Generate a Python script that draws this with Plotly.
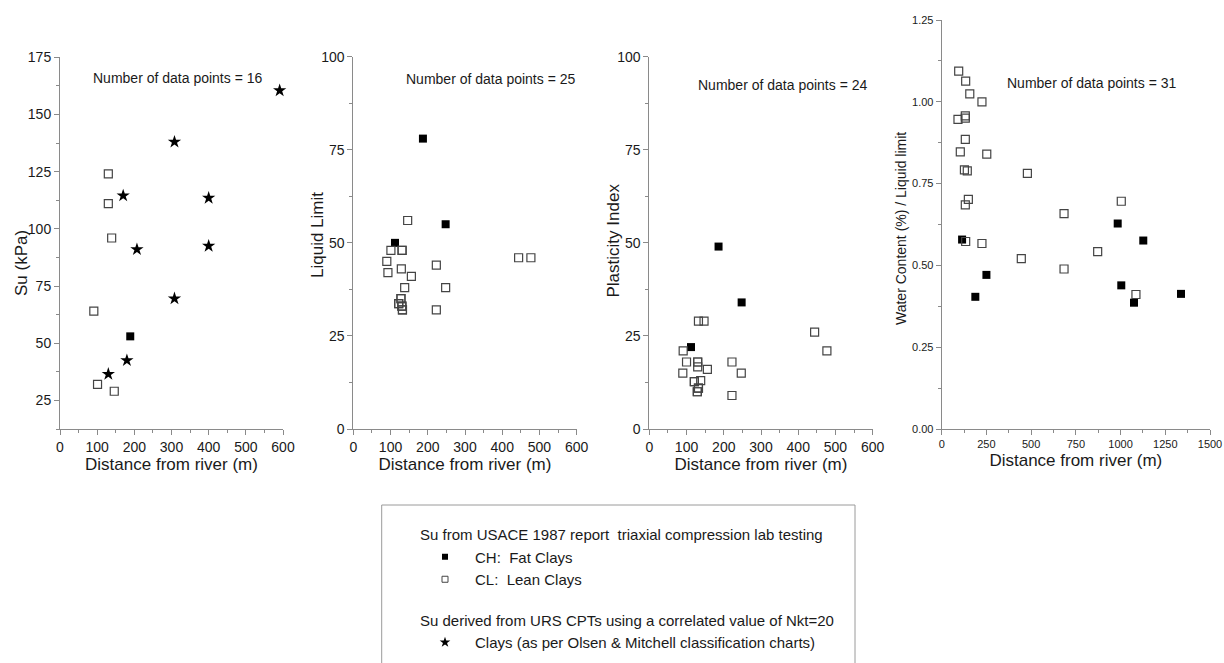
import plotly.graph_objects as go

# ---------------- data ----------------
# Panel 1: Su (kPa)
su_ch_x = [189]
su_ch_y = [53]
su_cl_x = [130, 130, 139, 91, 101, 146]
su_cl_y = [124, 111, 96, 64, 32, 29]
su_cpt_x = [591, 308, 170, 400, 207, 400, 308, 180, 130]
su_cpt_y = [160.5, 138, 114.5, 113.5, 91, 92.5, 69.5, 42.5, 36.5]

# Panel 2: Liquid Limit
ll_ch_x = [187, 248, 112]
ll_ch_y = [78, 55, 50]
ll_cl_x = [146, 101, 131, 90, 93, 129, 156, 223, 138, 248, 444, 477, 128, 122, 131, 132, 223,
           131, 128, 122, 130, 132]
ll_cl_y = [56, 48, 48, 45, 42, 43, 41, 44, 38, 38, 46, 46, 35, 33.7, 33, 32, 32,
           48, 35, 33.7, 33, 32]

# Panel 3: Plasticity Index
pi_ch_x = [186, 248, 112]
pi_ch_y = [49, 34, 22]
pi_cl_x = [132, 147, 91, 100, 130, 130, 156, 90, 222, 247, 121, 138, 132, 129, 222, 444, 477,
           130, 121, 129, 132]
pi_cl_y = [29, 29, 21, 18, 18, 16.7, 16, 15, 18, 15, 12.7, 13, 11, 10, 9, 26, 21,
           18, 12.7, 10, 11]

# Panel 4: Water content / Liquid limit
wc_ch_x = [114, 250, 188, 984, 1127, 1004, 1075, 1338]
wc_ch_y = [0.579, 0.471, 0.404, 0.628, 0.576, 0.439, 0.386, 0.413]
wc_cl_x = [95, 134, 157, 225, 91, 132, 132, 104, 252, 127, 143, 479, 149, 132, 1004, 684,
           134, 225, 872, 445, 684, 1086, 132]
wc_cl_y = [1.094, 1.063, 1.024, 1.000, 0.946, 0.957, 0.885, 0.847, 0.840, 0.792, 0.789, 0.781,
           0.702, 0.685, 0.696, 0.658, 0.573, 0.567, 0.542, 0.521, 0.489, 0.411, 0.950]

panel_counts = ["16", "25", "24", "31"]
y_titles = ["Su (kPa)", "Liquid Limit", "Plasticity Index", "Water Content (%) / Liquid limit"]
x_title = "Distance from river (m)"

legend_group_titles = ["Su from USACE 1987 report\u00a0\u00a0triaxial compression lab testing",
                       "Su derived from URS CPTs using a correlated value of Nkt=20"]
legend_names = ["CH:\u00a0\u00a0Fat Clays", "CL:\u00a0\u00a0Lean Clays",
                "Clays (as per Olsen & Mitchell classification charts)"]

FONT = "Liberation Sans, Arial, sans-serif"
TXT = "#1a1a1a"
AX = "#8a8a8a"

STYLE = {
    "CH": dict(symbol="square", size=8, color="black", line=dict(width=0)),
    "CL": dict(symbol="square-open", size=8, color="#444444", line=dict(width=1.2)),
    "CPT": dict(symbol="star", size=10, color="black", line=dict(width=0)),
}

fig = go.Figure()

def add(xs, ys, kind, ax):
    n = "" if ax == 1 else str(ax)
    fig.add_trace(go.Scatter(
        x=xs, y=ys, mode="markers", marker=STYLE[kind], name=kind,
        showlegend=False, xaxis="x" + n, yaxis="y" + n, cliponaxis=False,
        hoverinfo="x+y"))

add(su_ch_x, su_ch_y, "CH", 1)
add(su_cl_x, su_cl_y, "CL", 1)
add(su_cpt_x, su_cpt_y, "CPT", 1)
add(ll_ch_x, ll_ch_y, "CH", 2)
add(ll_cl_x, ll_cl_y, "CL", 2)
add(pi_ch_x, pi_ch_y, "CH", 3)
add(pi_cl_x, pi_cl_y, "CL", 3)
add(wc_ch_x, wc_ch_y, "CH", 4)
add(wc_cl_x, wc_cl_y, "CL", 4)

# legend-only entries (smaller symbols as in the reference key)
leg_marks = [
    dict(symbol="square", size=6, color="black", line=dict(width=0)),
    dict(symbol="square-open", size=6, color="#444444", line=dict(width=1)),
    dict(symbol="star", size=8, color="black", line=dict(width=0)),
]
leg_groups = ["lab", "lab", "cpt"]
leg_gt = [legend_group_titles[0], legend_group_titles[0], legend_group_titles[1]]
for i in range(3):
    fig.add_trace(go.Scatter(
        x=[None], y=[None], mode="markers", marker=leg_marks[i], name=legend_names[i],
        legendgroup=leg_groups[i], legendgrouptitle=dict(text=leg_gt[i]),
        showlegend=True, xaxis="x", yaxis="y"))

W, H = 1224, 663
def fx(px): return px / W
def fy(py): return 1 - py / H

x_domains = [(60, 283), (353.3, 576.7), (649.3, 872.7), (941.7, 1210)]
y_domains = [(57.3, 429), (56.7, 429), (56.7, 429), (20, 429)]
x_ranges = [[0, 600], [0, 600], [0, 600], [0, 1500]]
y_ranges = [[12.5, 175], [0, 100], [0, 100], [0, 1.25]]
x_dt = [100, 100, 100, 250]
y_dt = [25, 25, 25, 0.25]
tick_sz = [14, 14, 14, 11]
ytitle_sz = [17, 17, 17, 14]
ytitle_pos = [(22, 263), (317, 235), (612.5, 241), (901, 229)]
ytickfmt = ["", "", "", ".2f"]
ann_pos = [(0.525, 0.945), (0.612, 0.940), (0.598, 0.924), (0.560, 0.846)]

layout = dict(
    width=W, height=H, margin=dict(l=0, r=0, t=0, b=0),
    paper_bgcolor="white", plot_bgcolor="white",
    font=dict(family=FONT, color=TXT, size=14),
    showlegend=True,
    legend=dict(x=fx(415), y=fy(518), xanchor="left", yanchor="top",
                bgcolor="rgba(0,0,0,0)", borderwidth=0, itemwidth=50,
                font=dict(size=15, family=FONT, color=TXT),
                grouptitlefont=dict(size=15, family=FONT, color=TXT),
                tracegroupgap=18, traceorder="grouped", itemsizing="trace"),
)
annotations = []
for i in range(4):
    n = "" if i == 0 else str(i + 1)
    layout["xaxis" + n] = dict(
        domain=[fx(x_domains[i][0]), fx(x_domains[i][1])],
        anchor="y" + n, range=x_ranges[i], dtick=x_dt[i], tick0=0,
        showline=True, linecolor=AX, linewidth=1, showgrid=False, zeroline=False,
        ticks="outside", ticklen=5, tickcolor=AX, tickwidth=1,
        minor=dict(ticks="outside", ticklen=3, dtick=x_dt[i] / 2, tickcolor=AX, showgrid=False),
        tickfont=dict(size=tick_sz[i], family=FONT, color=TXT),
        title=dict(text=x_title, font=dict(size=17, family=FONT, color=TXT), standoff=4),
        automargin=False)
    layout["yaxis" + n] = dict(
        domain=[fy(y_domains[i][1]), fy(y_domains[i][0])],
        anchor="x" + n, range=y_ranges[i], dtick=y_dt[i], tick0=0,
        showline=True, linecolor=AX, linewidth=1, showgrid=False, zeroline=False,
        ticks="outside", ticklen=5, tickcolor=AX, tickwidth=1,
        minor=dict(ticks="outside", ticklen=3, dtick=y_dt[i] / 2, tickcolor=AX, showgrid=False),
        tickfont=dict(size=tick_sz[i], family=FONT, color=TXT),
        tickformat=ytickfmt[i],
        automargin=False)
    annotations.append(dict(
        text=y_titles[i], xref="paper", yref="paper",
        x=fx(ytitle_pos[i][0]), y=fy(ytitle_pos[i][1]), xanchor="center", yanchor="middle",
        textangle=-90, showarrow=False,
        font=dict(size=ytitle_sz[i], family=FONT, color=TXT)))
    annotations.append(dict(
        text="Number of data points = " + panel_counts[i],
        xref=("x" + n) + " domain", yref=("y" + n) + " domain",
        x=ann_pos[i][0], y=ann_pos[i][1], xanchor="center", yanchor="middle",
        showarrow=False, font=dict(size=14, family=FONT, color=TXT)))

layout["annotations"] = annotations
layout["shapes"] = [dict(type="rect", xref="paper", yref="paper",
                         x0=fx(381.7), x1=fx(855), y0=fy(505), y1=-0.1,
                         line=dict(color="#9a9a9a", width=1), fillcolor="rgba(0,0,0,0)")]
fig.update_layout(**layout)
fig.write_html("out.html")
